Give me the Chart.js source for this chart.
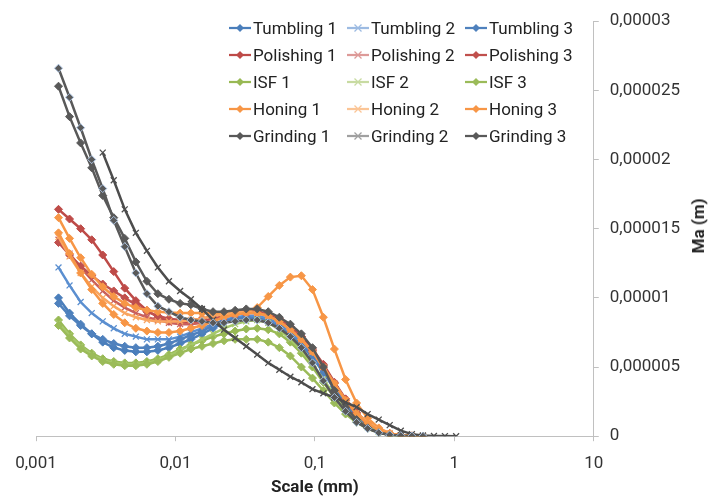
<!DOCTYPE html>
<html>
<head>
<meta charset="utf-8">
<script src="https://cdn.jsdelivr.net/npm/chart.js@4.4.0/dist/chart.umd.min.js"></script>
<style>
  body { margin: 0; background: #fff; font-family: Roboto, sans-serif; }
  #wrap { position: relative; width: 715px; height: 502px; }
  #legend { position: absolute; left: 229px; top: 15px; display: grid;
            grid-template-columns: 118px 118px 118px; grid-auto-rows: 26.8px;
            font-size: 17px; color: #222; }
  .item { display: flex; align-items: center; white-space: nowrap; }
  .item svg { margin-right: 2px; }
  #ytitle { position: absolute; left: 698px; top: 226px; transform: translate(-50%, -50%) rotate(-90deg);
            font-weight: bold; font-size: 17px; color: #222; white-space: nowrap; }
</style>
</head>
<body>
<div id="wrap">
  <canvas id="chart" width="715" height="502"></canvas>
  <div id="legend"></div>
  <div id="ytitle">Ma (m)</div>
</div>
<script>
// scale positions (mm) shared by all series
const scale = [0.00145, 0.00174, 0.00209, 0.00251, 0.00301, 0.00361, 0.00433, 0.0052, 0.00624, 0.00748,
  0.00898, 0.0108, 0.0129, 0.0155, 0.0186, 0.0223, 0.0268, 0.0322, 0.0386, 0.0463,
  0.0556, 0.0667, 0.08, 0.0961, 0.115, 0.138, 0.166, 0.199, 0.239, 0.287,
  0.344, 0.413, 0.496, 0.595, 0.714, 0.856, 1.03];

// Ma values in micrometres (x 1e-6 m)
const tumbling1 = [10.0, 8.9, 8.1, 7.4, 6.8, 6.4, 6.2, 6.1, 6.1, 6.2, 6.4, 6.7, 7.0, 7.4, 7.8, 8.2, 8.5, 8.6, 8.6, 8.4,
  8.1, 7.5, 6.8, 5.9, 4.8, 3.6, 2.4, 1.5, 0.85, 0.4, 0.15, 0.05, 0.01, 0];
const tumbling2 = [12.2, 10.9, 9.7, 8.9, 8.3, 7.8, 7.4, 7.2, 7.0, 7.0, 7.0, 7.2, 7.5, 7.8, 8.1, 8.4, 8.6, 8.7, 8.7, 8.5,
  8.1, 7.5, 6.8, 5.9, 4.8, 3.6, 2.5, 1.5, 0.85, 0.4, 0.15, 0.05, 0.01, 0];
const tumbling3 = [9.6, 8.7, 8.0, 7.4, 7.0, 6.7, 6.5, 6.4, 6.4, 6.5, 6.7, 7.0, 7.3, 7.6, 8.0, 8.3, 8.5, 8.6, 8.5, 8.3,
  7.9, 7.3, 6.6, 5.7, 4.6, 3.4, 2.3, 1.4, 0.8, 0.38, 0.14, 0.05, 0.01, 0];
const polishing1 = [16.4, 15.7, 15.0, 14.2, 13.1, 11.9, 10.7, 9.8, 9.1, 8.6, 8.3, 8.2, 8.2, 8.3, 8.5, 8.7, 8.9, 9.0, 9.0, 8.8,
  8.4, 7.9, 7.2, 6.3, 5.2, 3.9, 2.7, 1.7, 1.0, 0.5, 0.2, 0.07, 0.02, 0];
const polishing2 = [14.2, 13.2, 12.2, 11.3, 10.5, 9.8, 9.3, 8.9, 8.6, 8.4, 8.2, 8.1, 8.1, 8.2, 8.4, 8.6, 8.8, 8.9, 8.9, 8.7,
  8.3, 7.7, 7.0, 6.1, 5.0, 3.8, 2.6, 1.6, 0.9, 0.45, 0.18, 0.06, 0.02, 0];
const polishing3 = [14.0, 13.1, 12.3, 11.6, 11.0, 10.5, 10.0, 9.5, 9.0, 8.7, 8.5, 8.4, 8.4, 8.5, 8.7, 8.9, 9.0, 9.1, 9.0, 8.8,
  8.5, 7.9, 7.2, 6.2, 5.1, 3.8, 2.6, 1.6, 0.9, 0.45, 0.18, 0.06, 0.02, 0];
const isf1 = [8.4, 7.4, 6.6, 6.0, 5.6, 5.4, 5.3, 5.3, 5.4, 5.6, 5.9, 6.3, 6.6, 6.9, 7.2, 7.4, 7.6, 7.75, 7.8, 7.7,
  7.4, 6.8, 6.0, 5.0, 3.9, 2.8, 1.8, 1.1, 0.6, 0.28, 0.1, 0.03, 0.01, 0];
const isf2 = [8.2, 7.3, 6.5, 5.9, 5.5, 5.3, 5.2, 5.2, 5.3, 5.5, 5.8, 6.2, 6.6, 7.0, 7.4, 7.8, 8.1, 8.3, 8.4, 8.2,
  7.7, 7.0, 6.2, 5.2, 4.1, 3.0, 2.0, 1.2, 0.65, 0.3, 0.12, 0.04, 0.01, 0];
const isf3 = [8.0, 7.1, 6.3, 5.8, 5.4, 5.2, 5.1, 5.1, 5.2, 5.4, 5.7, 6.0, 6.3, 6.5, 6.7, 6.9, 7.0, 7.0, 7.0, 6.8,
  6.4, 5.8, 5.0, 4.2, 3.3, 2.4, 1.6, 1.0, 0.55, 0.25, 0.1, 0.03, 0.01, 0];
const honing1 = [15.8, 14.3, 12.9, 11.7, 10.8, 10.1, 9.6, 9.3, 9.1, 9.0, 8.95, 8.9, 8.9, 8.9, 8.9, 8.9, 8.9, 9.0, 9.3, 10.1,
  10.9, 11.5, 11.6, 10.6, 8.6, 6.3, 4.1, 2.4, 1.3, 0.6, 0.2, 0.07, 0.02, 0];
const honing2 = [14.4, 13.0, 11.8, 10.8, 10.0, 9.4, 8.9, 8.6, 8.4, 8.3, 8.3, 8.3, 8.4, 8.5, 8.7, 8.8, 8.9, 9.0, 8.9, 8.7,
  8.3, 7.7, 7.0, 6.1, 5.0, 3.8, 2.6, 1.7, 1.0, 0.5, 0.2, 0.07, 0.02, 0];
const honing3 = [14.7, 13.2, 11.8, 10.6, 9.6, 8.8, 8.2, 7.8, 7.6, 7.5, 7.5, 7.6, 7.8, 8.0, 8.3, 8.6, 8.8, 8.9, 8.9, 8.7,
  8.3, 7.7, 7.0, 6.1, 5.0, 3.8, 2.6, 1.6, 0.9, 0.45, 0.18, 0.06, 0.02, 0];
const grinding1 = [25.3, 23.1, 21.2, 19.4, 17.4, 15.8, 14.3, 12.6, 11.2, 10.3, 9.9, 9.6, 9.5, 9.2, 9.0, 9.0, 9.1, 9.2, 9.2, 9.0,
  8.6, 8.1, 7.4, 6.4, 5.0, 3.3, 2.1, 1.2, 0.6, 0.25, 0.08, 0.03, 0.01, 0];
const grinding2 = [null, null, null, null, 20.5, 18.5, 16.4, 14.7, 13.4, 12.2, 11.2, 10.5, 9.9, 9.2, 8.4, 7.7, 7.1, 6.5, 5.9, 5.3,
  4.8, 4.3, 3.9, 3.4, 3.1, 2.8, 2.45, 2.1, 1.6, 1.2, 0.8, 0.4, 0.15, 0.05, 0.02, 0.01, 0];
const grinding3 = [26.6, 24.5, 22.3, 20.0, 17.9, 15.6, 13.7, 11.8, 10.3, 9.4, 9.0, 8.6, 8.4, 8.3, 8.2, 8.2, 8.3, 8.4, 8.4, 8.2,
  7.8, 7.2, 6.4, 5.3, 4.0, 2.8, 1.8, 1.0, 0.55, 0.25, 0.1, 0.04, 0.01, 0];

const xTicks = [0.001, 0.01, 0.1, 1, 10];
const xTickLabels = ['0,001', '0,01', '0,1', '1', '10'];
const yTicks = [0, 0.000005, 0.00001, 0.000015, 0.00002, 0.000025, 0.00003];
const yTickLabels = ['0', '0,000005', '0,00001', '0,000015', '0,00002', '0,000025', '0,00003'];

const series = [
  ['Tumbling 1', tumbling1, '#4a7ebb', 'rectRot', '#4a7ebb'],
  ['Tumbling 2', tumbling2, '#5b8fd0', 'crossRot', '#9dbbe2'],
  ['Tumbling 3', tumbling3, '#4f81bd', 'rectRot', '#4f81bd'],
  ['Polishing 1', polishing1, '#be4b48', 'rectRot', '#be4b48'],
  ['Polishing 2', polishing2, '#c9605d', 'crossRot', '#dd9a98'],
  ['Polishing 3', polishing3, '#c0504d', 'rectRot', '#c0504d'],
  ['ISF 1', isf1, '#98b954', 'rectRot', '#98b954'],
  ['ISF 2', isf2, '#a6c86a', 'crossRot', '#c8dba2'],
  ['ISF 3', isf3, '#9bbb59', 'rectRot', '#9bbb59'],
  ['Honing 1', honing1, '#f79646', 'rectRot', '#f79646'],
  ['Honing 2', honing2, '#f9a560', 'crossRot', '#fbc596'],
  ['Honing 3', honing3, '#f79646', 'rectRot', '#f79646'],
  ['Grinding 1', grinding1, '#595959', 'rectRot', '#595959'],
  ['Grinding 2', grinding2, '#4d4d4d', 'crossRot', '#a0a0a0'],
  ['Grinding 3', grinding3, '#595959', 'rectRot', '#595959']
];

const datasets = series.map(([label, vals, color, marker, legendColor], i) => ({
  label: label,
  data: vals.map((v, j) => ({ x: scale[j], y: v === null ? null : v * 1e-6 })),
  borderColor: color,
  backgroundColor: color,
  borderWidth: 2.5,
  pointStyle: marker,
  pointRadius: marker === 'rectRot' ? 4 : 4.2,
  pointBorderWidth: marker === 'rectRot' ? 1 : 1.3,
  pointBackgroundColor: color,
  pointBorderColor: label === 'Grinding 3' ? '#a9c0de' : color,
  legendColor: legendColor,
  order: -i,
  tension: 0
}));

const font = { family: 'Roboto', size: 17 };

new Chart(document.getElementById('chart'), {
  type: 'line',
  data: { datasets: datasets },
  options: {
    responsive: false,
    animation: false,
    devicePixelRatio: 1,
    layout: { padding: { left: 36, right: 24, top: 14, bottom: 4 } },
    plugins: { legend: { display: false }, tooltip: { enabled: false } },
    scales: {
      x: {
        type: 'logarithmic', min: 0.001, max: 10,
        afterBuildTicks: s => { s.ticks = xTicks.map(v => ({ value: v })); },
        ticks: { callback: (v, i) => xTickLabels[i], font: font, color: '#333', padding: 12,
                 maxRotation: 0, autoSkip: false },
        grid: { drawOnChartArea: false, tickLength: 5, color: '#c0c0c0' },
        border: { color: '#c0c0c0' },
        title: { display: true, text: 'Scale (mm)', font: { family: 'Roboto', size: 17, weight: 'bold' },
                 color: '#222', padding: { top: -8, bottom: 0 } }
      },
      y: {
        position: 'right', min: 0, max: 0.00003,
        afterBuildTicks: s => { s.ticks = yTicks.map(v => ({ value: v })); },
        ticks: { callback: (v, i) => yTickLabels[i], font: font, color: '#333', padding: 11 },
        grid: { drawOnChartArea: false, tickLength: 5, color: '#c0c0c0' },
        border: { color: '#c0c0c0' }
      }
    }
  }
});

// legend built from the datasets, 3 columns like the original
const legend = document.getElementById('legend');
datasets.forEach(ds => {
  const c = ds.legendColor;
  const mark = ds.pointStyle === 'rectRot'
    ? `<polygon points="11,3 15,7 11,11 7,7" fill="${c}"/>`
    : `<path d="M7.5,3.5 L14.5,10.5 M14.5,3.5 L7.5,10.5" stroke="${c}" stroke-width="1.3"/>`;
  const item = document.createElement('div');
  item.className = 'item';
  item.innerHTML = `<svg width="22" height="14"><line x1="0" y1="7" x2="22" y2="7" stroke="${c}" stroke-width="2.25"/>${mark}</svg><span>${ds.label}</span>`;
  legend.appendChild(item);
});
</script>
</body>
</html>
